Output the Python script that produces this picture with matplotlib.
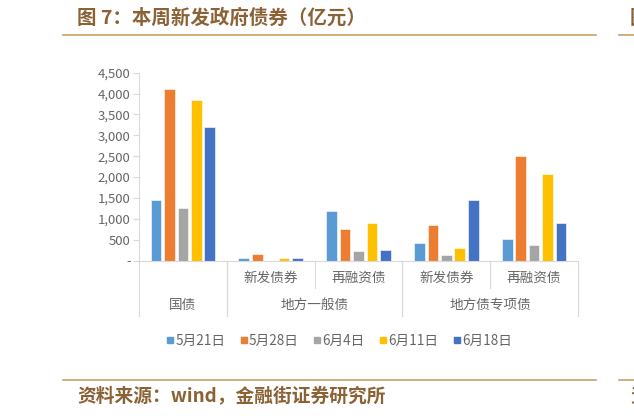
import matplotlib
matplotlib.use("Agg")
import matplotlib.pyplot as plt
from matplotlib.lines import Line2D
import numpy as np

plt.rcParams['font.family'] = ['Noto Sans CJK SC', 'DejaVu Sans']

# data (亿元)
sub_labels = ["", "新发债券", "再融资债", "新发债券", "再融资债"]
groups = [("国债", 0, 1), ("地方一般债", 1, 3), ("地方债专项债", 3, 5)]
series = ["5月21日", "5月28日", "6月4日", "6月11日", "6月18日"]
v_0521 = [1450, 70, 1180, 410, 520]
v_0528 = [4100, 150, 760, 840, 2510]
v_0604 = [1250, 0, 230, 120, 380]
v_0611 = [3850, 50, 890, 310, 2070]
v_0618 = [3200, 70, 250, 1450, 900]
values = [v_0521, v_0528, v_0604, v_0611, v_0618]
colors = ["#5B9BD5", "#ED7D31", "#A5A5A5", "#FFC000", "#4472C4"]

W, H = 634, 418
fig = plt.figure(figsize=(W / 100, H / 100), dpi=100)
fig.patch.set_facecolor("white")

top, base = 72.7, 260.5
ax = fig.add_axes([139 / W, 1 - base / H, (578 - 139) / W, (base - top) / H])

x = np.arange(len(sub_labels))
bw, step = 0.122, 0.153
for i, (vals, c) in enumerate(zip(values, colors)):
    ax.bar(x + (i - 2) * step, vals, bw, color=c, edgecolor="white", linewidth=0.4, label=series[i])

ax.set_xlim(-0.5, len(sub_labels) - 0.5)
ax.set_ylim(0, 4500)
ax.set_yticks(np.arange(0, 4501, 500))
ax.set_yticklabels(["-"] + ["{:,}".format(v) for v in range(500, 4501, 500)])
ax.tick_params(axis="y", colors="#d9d9d9", labelcolor="#666666", labelsize=9.5, length=4, width=0.8, pad=2)
ax.set_xticks([])
for s in ["top", "right"]:
    ax.spines[s].set_visible(False)
ax.spines["left"].set_color("#d9d9d9")
ax.spines["bottom"].set_color("#d9d9d9")
ax.spines["left"].set_linewidth(0.8)
ax.spines["bottom"].set_linewidth(0.8)

# two level category axis
hpx = base - top
y1 = -(288 - base) / hpx
y2 = -(316 - base) / hpx
trans = ax.get_xaxis_transform()
ax.plot([-0.52, -0.5], [0, 0], color="#d9d9d9", lw=0.8, transform=trans, clip_on=False)
for i, lab in enumerate(sub_labels):
    if lab:
        ax.text(i, -(277.5 - base) / hpx, lab, transform=trans, ha="center", va="center",
                fontsize=9.8, color="#666666")
for name, a, b in groups:
    ax.text((a + b - 1) / 2, -(305 - base) / hpx, name, transform=trans, ha="center", va="center",
            fontsize=9.8, color="#666666")
    for xe in (a - 0.5, b - 0.5):
        ax.plot([xe, xe], [0, y2], color="#d9d9d9", lw=0.8, transform=trans, clip_on=False)
    for k in range(a + 1, b):
        ax.plot([k - 0.5, k - 0.5], [0, y1], color="#d9d9d9", lw=0.8, transform=trans, clip_on=False)

# legend
handles = [Line2D([], [], marker="s", ls="", color=c, markersize=4.5) for c in colors]
fig.legend(handles, series, loc="center", bbox_to_anchor=(339 / W, 1 - 341 / H), ncol=5,
           frameon=False, fontsize=9.8, handlelength=0.6, handletextpad=0.1, columnspacing=1.05,
           labelcolor="#666666")

# title, rules and source
brown = "#8B6236"
rule = "#C9A063"
fig.text(77 / W, 1 - 18 / H, "图 7：本周新发政府债券（亿元）", fontsize=14, fontweight="bold",
         color=brown, ha="left", va="center")
fig.text(630 / W, 1 - 18 / H, "图", fontsize=14, fontweight="bold", color=brown, ha="left", va="center")
for yy in (35, 379.5):
    fig.add_artist(Line2D([63 / W, 596 / W], [1 - yy / H] * 2, color=rule, lw=1.2))
    fig.add_artist(Line2D([619 / W, 1], [1 - yy / H] * 2, color=rule, lw=1.2))
fig.text(77 / W, 1 - 397 / H, "资料来源：wind，金融街证券研究所", fontsize=13.5, fontweight="bold",
         color=brown, ha="left", va="center")
fig.text(630 / W, 1 - 397 / H, "资", fontsize=13.5, fontweight="bold", color=brown, ha="left", va="center")

fig.savefig("out.png", dpi=100)
